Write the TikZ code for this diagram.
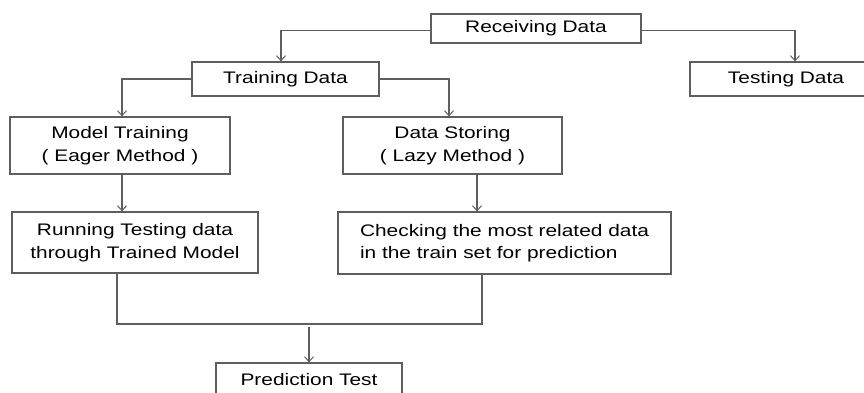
\documentclass[tikz,border=0pt]{standalone}
\usepackage{fontspec}
\setmainfont{Liberation Sans}[FakeStretch=1.25]
\usetikzlibrary{arrows.meta}
\definecolor{linegray}{HTML}{5E5E5E}
\tikzset{
    box/.style={draw=linegray, line width=1.2pt, inner sep=0pt, align=center,
        font=\fontsize{16.7}{22.4}\selectfont},
    conn/.style={draw=linegray, line width=1.2pt},
    arr/.style={conn, -{Straight Barb[length=5pt,width=9pt,line width=1pt]}}
}
\begin{document}
\begin{tikzpicture}[x=1pt, y=-1pt]
    \clip (0,0) rectangle (864,392);
    % Riquadri
    \node[box, minimum width=210pt, minimum height=29pt] (receiving) at (536,28.5) {Receiving Data};
    \node[box, minimum width=187pt, minimum height=34pt] (training) at (285.5,79) {Training Data};
    \node[box, minimum width=192pt, minimum height=34pt] (testing) at (786,79) {Testing Data};
    \node[box, minimum width=220pt, minimum height=57pt] (model) at (120,145.5) {Model Training\\( Eager Method )};
    \node[box, minimum width=219pt, minimum height=57pt] (storing) at (452.5,145.5) {Data Storing\\( Lazy Method )};
    \node[box, minimum width=246pt, minimum height=61pt] (running) at (135,242.5) {Running Testing data\\through Trained Model};
    \node[box, align=left, minimum width=333pt, minimum height=62pt] (checking) at (504.5,243) {Checking the most related data\\in the train set for prediction};
    \node[box, minimum width=186pt, minimum height=34pt] (prediction) at (309,380) {Prediction Test};
    
    % Frecce
    \draw[arr] ([yshift=-2pt]receiving.west) -| ([xshift=-4.5pt]training.north);
    \draw[arr] ([yshift=-2pt]receiving.east) -| ([xshift=9pt]testing.north);
    \draw[arr] (training.west) -| ([xshift=2pt]model.north);
    \draw[arr] (training.east) -| ([xshift=-3.5pt]storing.north);
    \draw[arr] ([xshift=2pt]model.south) -- ([xshift=2pt]model.south |- running.north);
    \draw[arr] ([xshift=24.5pt]storing.south) -- ([xshift=24.5pt]storing.south |- checking.north);
    
    % Unione
    \coordinate (merge) at (309,324);
    \draw[conn] ([xshift=-18pt]running.south) |- (merge) -| ([xshift=-22.5pt]checking.south);
    \draw[arr] ([yshift=-3pt]merge) -- (prediction);
\end{tikzpicture}
\end{document}
